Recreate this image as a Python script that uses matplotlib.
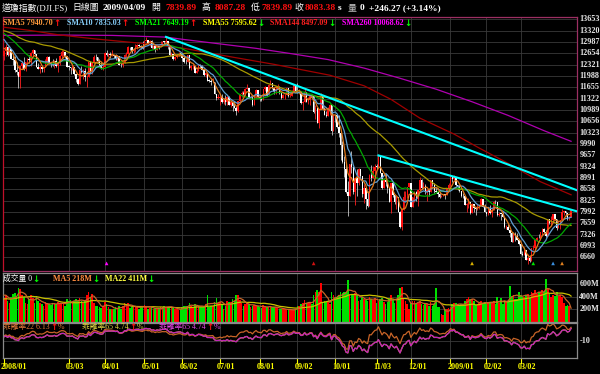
"""DJI daily chart (2008/01 - 2009/04/09) with SMAs, volume and bias panels -> out.png"""
import numpy as np
import pandas as pd
import matplotlib
matplotlib.use("Agg")
import matplotlib.pyplot as plt
from matplotlib.transforms import blended_transform_factory as blend

W, H = 600, 374
FONT = ["Liberation Serif", "Noto Sans CJK TC", "DejaVu Sans"]

# closes before the first drawn bar (2007/10/05 - 2008/01/08), only feed the averages
WARMUP_CLOSE = [
    14066, 14043, 14165, 14079, 14015, 14093, 13985, 13913, 13893, 13889, 13522, 13567, 13676,
    13675, 13671, 13807, 13870, 13792, 13930,
    13567, 13595, 13543, 13661, 13300, 13266, 13043, 12988, 13307, 13231, 13111, 13177, 12959,
    13011, 12800, 12981, 12744, 12959, 13289, 13312, 13372,
    13315, 13249, 13445, 13620, 13626, 13727, 13433, 13474, 13518, 13340, 13168, 13233, 13207,
    13246, 13451, 13550, 13551, 13359, 13366, 13265,
    13044, 13057, 12800, 12828, 12589,
]
WARMUP_VOL = [340, 360, 380, 350, 330, 360, 380, 350, 360, 380, 340, 300, 260, 330, 320, 350,
              400, 420, 440, 420, 460]

# daily bars 2008/01/09 - 2009/04/09
OPEN = [
    12589, 12735, 12853, 12606, 12778, 12501, 12466, 12159, 12099, 11971, 12270, 12379, 12207, 12384, 12480, 12443,
    12650, 12743, 12635, 12265, 12200, 12247, 12182, 12240, 12373, 12552, 12377, 12348, 12337, 12427, 12284, 12381, 12570, 12685, 12694, 12582,
    12266, 12259, 12214, 12255, 12040, 11894, 11740, 12157, 12110, 12146, 11951, 11972, 12393, 12100, 12361, 12549, 12533, 12423, 12302, 12216,
    12263, 12654, 12609, 12626, 12609, 12612, 12576, 12527, 12582, 12325, 12302, 12362, 12619, 12620, 12849, 12825, 12720, 12763, 12849, 12892, 12872, 12831,
    12820, 13010, 13058, 12970, 13021, 12814, 12867, 12746, 12876, 12832, 12898, 12993, 12987, 13028, 12829, 12601, 12626, 12480, 12548, 12591, 12646,
    12638, 12504, 12403, 12390, 12604, 12210, 12280, 12290, 12084, 12142, 12307, 12269, 12160, 12029, 12063, 11843, 11842, 11807, 11812, 11453, 11347,
    11350, 11382, 11216, 11289, 11232, 11384, 11147, 11229, 11101, 11055, 10963, 11239, 11447, 11497, 11467, 11603, 11632, 11349, 11371, 11131, 11398, 11584,
    11378, 11326, 11284, 11616, 11656, 11431, 11734, 11782, 11642, 11533, 11616, 11660, 11479, 11349, 11417, 11430, 11628, 11386, 11413, 11503, 11715,
    11544, 11517, 11533, 11188, 11221, 11511, 11231, 11269, 11434, 11422, 10918, 11059, 10610, 11020, 11388, 11016, 10854, 10825, 11022, 11143, 10365,
    10851, 10831, 10483, 10325, 9956, 9447, 9258, 8579, 8451, 9388, 9311, 8578, 8979, 8852, 9265, 9034, 8519, 8691, 8379, 8176, 9065, 8991, 9181,
    9325, 9320, 9625, 9139, 8696, 8944, 8871, 8694, 8283, 8835, 8497, 8274, 8425, 7997, 7552, 8046, 8443, 8479, 8727,
    8829, 8149, 8419, 8592, 8376, 8635, 8934, 8691, 8761, 8565, 8630, 8565, 8924, 8824, 8605, 8579, 8520, 8419, 8468, 8516, 8484, 8668,
    8776, 9035, 8953, 9015, 8770, 8742, 8599, 8474, 8449, 8200, 8212, 8281, 7949, 8228, 8123, 8078, 8116, 8175, 8375, 8149,
    8001, 7937, 8078, 7957, 8063, 8281, 8271, 7889, 7940, 7933, 7850, 7553, 7556, 7466, 7366, 7115, 7351, 7271, 7182,
    7063, 6763, 6726, 6876, 6594, 6627, 6547, 6926, 6930, 7170, 7224, 7217, 7396, 7487, 7401, 7278, 7776, 7660, 7750, 7925, 7776, 7522,
    7609, 7762, 7978, 8018, 7976, 7790, 7840,
]
HIGH = [
    12760, 12918, 12860, 12844, 12778, 12598, 12561, 12403, 12099, 12292, 12437, 12552, 12402, 12514, 12616, 12700,
    12767, 12743, 12635, 12369, 12299, 12247, 12258, 12493, 12571, 12589, 12388, 12494, 12462, 12526, 12401, 12597, 12740, 12763, 12694, 12582,
    12306, 12259, 12348, 12255, 12040, 11937, 12162, 12285, 12207, 12223, 12023, 12393, 12420, 12371, 12608, 12620, 12533, 12485, 12385, 12319,
    12684, 12741, 12676, 12688, 12739, 12612, 12625, 12618, 12582, 12362, 12397, 12641, 12682, 12869, 12849, 12825, 12794, 12921, 12920, 12935, 12889, 13010,
    13018, 13136, 13058, 13042, 13051, 12903, 12867, 12889, 12897, 13007, 13006, 13022, 13136, 13028, 12865, 12686, 12626, 12571, 12637, 12700, 12671,
    12638, 12575, 12476, 12615, 12604, 12322, 12340, 12290, 12245, 12318, 12338, 12319, 12160, 12109, 12063, 11903, 11893, 11941, 11812, 11461, 11450,
    11403, 11466, 11345, 11431, 11405, 11400, 11291, 11229, 11266, 11118, 11252, 11469, 11532, 11561, 11625, 11752, 11632, 11440, 11371, 11410, 11610, 11584,
    11407, 11359, 11616, 11702, 11656, 11760, 11867, 11782, 11642, 11687, 11746, 11690, 11479, 11460, 11453, 11646, 11628, 11467, 11565, 11733, 11715,
    11790, 11594, 11533, 11252, 11625, 11511, 11361, 11443, 11464, 11422, 11127, 11059, 11032, 11485, 11388, 11089, 10955, 11082, 11159, 11143, 10875,
    10851, 10831, 10844, 10323, 10082, 9628, 9403, 8901, 9388, 9794, 9311, 8994, 9265, 9275, 9265, 9034, 8809, 8691, 8605, 9099, 9385, 9352, 9406,
    9399, 9653, 9625, 9139, 8990, 9129, 8871, 8694, 8854, 8835, 8497, 8443, 8425, 8009, 8090, 8598, 8604, 8735, 8831,
    8829, 8420, 8607, 8601, 8638, 9026, 8968, 8879, 8800, 8661, 8647, 8939, 8924, 8850, 8713, 8590, 8573, 8482, 8531, 8516, 8670, 8831,
    9065, 9035, 9088, 9015, 8770, 8770, 8599, 8553, 8449, 8262, 8399, 8281, 8241, 8228, 8150, 8234, 8225, 8395, 8375, 8215,
    8001, 8104, 8193, 8096, 8315, 8339, 8271, 7991, 7940, 7983, 7850, 7620, 7625, 7466, 7409, 7366, 7401, 7384, 7182,
    7063, 6854, 6969, 6876, 6757, 6707, 6926, 7016, 7181, 7245, 7357, 7403, 7522, 7531, 7451, 7776, 7776, 7860, 7931, 7925, 7776, 7739,
    7764, 8075, 8018, 8018, 7976, 7887, 8087,
]
LOW = [
    12472, 12572, 12563, 12606, 12477, 12321, 12119, 12030, 11634, 11642, 12184, 12157, 12142, 12360, 12381, 12273,
    12571, 12613, 12248, 12187, 12070, 12117, 12111, 12240, 12373, 12349, 12259, 12275, 12228, 12251, 12106, 12325, 12524, 12571, 12513, 12246,
    12162, 12033, 12162, 12022, 11803, 11731, 11740, 12084, 11890, 11842, 11650, 11972, 12087, 12060, 12361, 12452, 12369, 12283, 12193, 12167,
    12263, 12580, 12537, 12527, 12580, 12523, 12466, 12467, 12297, 12249, 12256, 12362, 12560, 12620, 12760, 12674, 12676, 12703, 12774, 12850, 12782, 12791,
    12820, 13010, 12944, 12876, 12799, 12793, 12697, 12741, 12782, 12832, 12863, 12940, 12959, 12782, 12582, 12589, 12455, 12460, 12508, 12576, 12601,
    12431, 12366, 12329, 12390, 12204, 12175, 12185, 12063, 12083, 12142, 12212, 12154, 11997, 11946, 11826, 11808, 11731, 11800, 11445, 11288, 11314,
    11147, 11202, 11176, 11148, 11124, 11140, 11089, 10963, 11045, 10827, 10920, 11239, 11374, 11428, 11385, 11597, 11337, 11327, 11118, 11131, 11398, 11361,
    11242, 11239, 11284, 11536, 11402, 11431, 11734, 11616, 11467, 11451, 11616, 11446, 11323, 11327, 11302, 11430, 11372, 11358, 11400, 11503, 11526,
    11487, 11451, 11168, 11000, 11221, 11214, 11155, 11134, 11328, 10903, 10721, 10596, 10459, 11020, 11004, 10836, 10789, 10825, 10828, 10266, 10365,
    10634, 10453, 10205, 9525, 9438, 9019, 8539, 7882, 8451, 9128, 8530, 8197, 8450, 8780, 8966, 8423, 8268, 8076, 8152, 8176, 8898, 8991, 8993,
    9250, 9320, 9136, 8670, 8696, 8744, 8552, 8271, 7965, 8443, 8216, 8086, 7990, 7508, 7449, 8046, 8325, 8395, 8717,
    8141, 8149, 8295, 8300, 8171, 8635, 8671, 8691, 8530, 8328, 8464, 8565, 8752, 8559, 8553, 8426, 8405, 8419, 8459, 8382, 8484, 8668,
    8760, 8880, 8941, 8751, 8651, 8572, 8425, 8390, 8185, 7996, 8105, 7930, 7949, 8000, 7909, 8050, 8091, 8175, 8137, 7983,
    7869, 7902, 7943, 7846, 8063, 8220, 7867, 7867, 7748, 7846, 7534, 7486, 7448, 7250, 7106, 7115, 7146, 7170, 7027,
    6755, 6701, 6726, 6582, 6470, 6517, 6547, 6875, 6880, 7130, 7213, 7173, 7281, 7359, 7250, 7278, 7634, 7610, 7750, 7744, 7469, 7522,
    7483, 7762, 7890, 7876, 7764, 7741, 7840,
]
CLOSE = [
    12735, 12853, 12606, 12778, 12501, 12466, 12159, 12099, 11971, 12270, 12379, 12207, 12384, 12480, 12443, 12650,
    12743, 12635, 12265, 12200, 12247, 12182, 12240, 12373, 12552, 12377, 12348, 12337, 12427, 12284, 12381, 12570, 12685, 12694, 12582, 12266,
    12259, 12214, 12255, 12040, 11894, 11740, 12157, 12110, 12146, 11951, 11972, 12393, 12100, 12361, 12549, 12533, 12423, 12302, 12216, 12263,
    12654, 12609, 12626, 12609, 12612, 12576, 12527, 12582, 12325, 12302, 12362, 12619, 12620, 12849, 12825, 12720, 12763, 12849, 12892, 12872, 12831, 12820,
    13010, 13058, 12970, 13021, 12814, 12867, 12746, 12876, 12832, 12898, 12993, 12987, 13028, 12829, 12601, 12626, 12480, 12548, 12591, 12646, 12638,
    12504, 12403, 12390, 12604, 12210, 12280, 12290, 12084, 12142, 12307, 12269, 12160, 12029, 12063, 11843, 11842, 11807, 11812, 11453, 11347, 11350,
    11382, 11216, 11289, 11232, 11384, 11147, 11229, 11101, 11055, 10963, 11239, 11447, 11497, 11467, 11603, 11632, 11349, 11371, 11131, 11398, 11584, 11378,
    11326, 11284, 11616, 11656, 11431, 11734, 11782, 11642, 11533, 11616, 11660, 11479, 11349, 11417, 11430, 11628, 11386, 11413, 11503, 11715, 11544,
    11517, 11533, 11188, 11221, 11511, 11231, 11269, 11434, 11422, 10918, 11059, 10610, 11020, 11388, 11016, 10854, 10825, 11022, 11143, 10365, 10851,
    10831, 10483, 10325, 9956, 9447, 9258, 8579, 8451, 9388, 9311, 8578, 8979, 8852, 9265, 9034, 8519, 8691, 8379, 8176, 9065, 8991, 9181, 9325,
    9320, 9625, 9139, 8696, 8944, 8871, 8694, 8283, 8835, 8497, 8274, 8425, 7997, 7552, 8046, 8443, 8479, 8727, 8829,
    8149, 8419, 8592, 8376, 8635, 8934, 8691, 8761, 8565, 8630, 8565, 8924, 8824, 8605, 8579, 8520, 8419, 8468, 8516, 8484, 8668, 8776,
    9035, 8953, 9015, 8770, 8742, 8599, 8474, 8449, 8200, 8212, 8281, 7949, 8228, 8123, 8078, 8116, 8175, 8375, 8149, 8001,
    7937, 8078, 7957, 8063, 8281, 8271, 7889, 7940, 7933, 7850, 7553, 7556, 7466, 7366, 7115, 7351, 7271, 7182, 7063,
    6763, 6726, 6876, 6594, 6627, 6547, 6926, 6930, 7170, 7224, 7217, 7396, 7487, 7401, 7278, 7776, 7660, 7750, 7925, 7776, 7522, 7609,
    7762, 7978, 8018, 7976, 7790, 7837, 8083,
]
VOLUME = [  # millions
    380, 420, 330, 300, 400, 440, 460, 400, 540, 520, 430, 400, 300, 290, 360, 420,
    380, 300, 410, 330, 300, 280, 250, 320, 300, 280, 270, 290, 300, 280, 320, 280, 300, 290, 260, 360,
    330, 350, 300, 330, 360, 340, 380, 330, 300, 330, 420, 480, 400, 440, 300, 250, 260, 240, 220, 260,
    320, 280, 230, 200, 210, 210, 230, 220, 260, 210, 250, 300, 280, 300, 220, 230, 240, 250, 240, 210, 230, 260,
    270, 250, 200, 220, 240, 210, 200, 200, 210, 230, 230, 260, 230, 240, 240, 230, 220, 200, 200, 190, 200,
    230, 260, 260, 260, 300, 250, 240, 280, 250, 260, 230, 240, 260, 280, 430, 230, 260, 260, 320, 380, 300,
    320, 280, 200, 260, 340, 310, 320, 360, 330, 420, 420, 350, 300, 250, 280, 300, 290, 240, 250, 270, 250, 260,
    230, 220, 270, 240, 230, 240, 240, 230, 240, 230, 220, 200, 210, 210, 200, 190, 190, 200, 190, 190, 210,
    260, 250, 280, 300, 350, 300, 300, 300, 280, 420, 480, 510, 480, 620, 300, 330, 310, 330, 280, 470, 420,
    390, 400, 420, 470, 460, 480, 470, 660, 450, 430, 420, 460, 440, 340, 350, 390, 360, 350, 340, 390, 370, 350, 380,
    300, 340, 360, 380, 320, 290, 320, 360, 430, 350, 300, 370, 420, 540, 560, 370, 330, 280, 200,
    300, 330, 330, 290, 300, 330, 280, 270, 280, 290, 250, 320, 260, 290, 540, 240, 230, 120, 110, 200, 200, 220,
    230, 280, 300, 300, 280, 260, 280, 280, 330, 370, 390, 360, 360, 330, 270, 280, 300, 330, 300, 310,
    290, 300, 320, 310, 330, 280, 390, 300, 380, 280, 330, 340, 330, 570, 410, 420, 360, 370, 480,
    430, 400, 400, 420, 450, 380, 480, 460, 500, 450, 470, 480, 500, 470, 680, 520, 450, 400, 420, 410, 480, 410,
    420, 400, 300, 260, 270, 260, 0,
]

# long averages (bar index, value)
SMA144_AT = [0, 14, 30, 50, 76, 100, 125, 150, 181, 200, 215, 231, 250, 264, 280, 298, 315]
SMA144_VAL = [13420, 13330, 13200, 13080, 12950, 12800, 12560, 12330, 12010, 11700, 11300,
              10750, 10280, 9870, 9420, 8880, 8497]
SMA260_AT = [0, 30, 60, 90, 100, 120, 140, 160, 180, 200, 220, 240, 260, 280, 300, 315]
SMA260_VAL = [13180, 13190, 13180, 13130, 13060, 12930, 12800, 12640, 12470, 12220, 11920,
              11600, 11230, 10830, 10380, 10068]

# hand-drawn resistance lines (bar, price) -> (bar, price)
TREND_FROM = [(90, 13136), (208, 9653)]
TREND_TO = [(318.3, 8630), (318.3, 8010)]

SIGNAL_AT = [57, 172, 260, 294, 305, 310]
SIGNAL_COLORS = ["#ff00ff", "#d01010", "#d8b000", "#00e000", "#3a90e0", "#e08020"]

PRICE_TICKS = [13653, 13320, 12987, 12654, 12321, 11988, 11655, 11322, 10989, 10656, 10323,
               9990, 9657, 9324, 8991, 8658, 8325, 7992, 7659, 7326, 6993, 6660]
VOL_TICKS = [200, 400, 600]
MONTH_AT = [0, 36, 56, 78, 99, 120, 142, 163, 184, 207, 226, 248, 268, 287]
MONTH_LABELS = ["2008/01", "03/03", "04/01", "05/01", "06/02", "07/01", "08/01", "09/02",
                "10/01", "11/03", "12/01", "2009/01", "02/02", "03/02"]

n = min(len(OPEN), len(HIGH), len(LOW), len(CLOSE), len(VOLUME))
o = np.array(OPEN[:n], float)
h = np.array(HIGH[:n], float)
l = np.array(LOW[:n], float)
c = np.array(CLOSE[:n], float)
v = np.array(VOLUME[:n], float)
x = np.arange(n)

closes = pd.Series(WARMUP_CLOSE + list(c))
vols = pd.Series(WARMUP_VOL + list(v))
k0, v0 = len(WARMUP_CLOSE), len(WARMUP_VOL)
sma = {p: closes.rolling(p).mean().to_numpy()[k0:] for p in (5, 10, 21, 22, 55, 65)}
bias22 = (c - sma[22]) / sma[22] * 100
bias65 = (c - sma[65]) / sma[65] * 100
vma5 = vols.rolling(5).mean().to_numpy()[v0:]
vma22 = vols.rolling(22).mean().to_numpy()[v0:]

fig = plt.figure(figsize=(W / 100, H / 100), dpi=100, facecolor="black")
renderer = fig.canvas.get_renderer()
XL = (-0.55, 318.3)
GRID = "#3a3a3a"


def panel(top, bottom, edge):
    a = fig.add_axes([3 / W, 1 - bottom / H, 574 / W, (bottom - top) / H])
    a.set_facecolor("black")
    a.set_xticks([])
    a.set_yticks([])
    a.set_xlim(*XL)
    for s in a.spines.values():
        s.set_color(edge)
        s.set_linewidth(0.9)
    for m in MONTH_AT[1:]:
        a.axvline(m, color=GRID, lw=0.6, zorder=0)
    return a


def ftext(px, py, s, color, size=5.8, weight="bold", family=FONT):
    """Text at pixel (px, py) from top-left; returns its right edge in pixels."""
    t = fig.text(px / W, 1 - py / H, s, color=color, fontsize=size, fontweight=weight,
                 family=family, ha="left", va="center")
    return t.get_window_extent(renderer).x1


def arrow(px, py, up_):
    return ftext(px, py, "↑" if up_ else "↓", "#ff1010" if up_ else "#00ff00", 6.2, "bold",
                 ["DejaVu Sans"])


# ---- price panel
ax = panel(17, 271, "#9c2f62")
ax.spines["left"].set_color("#c0102a")
ax.set_ylim(6257, 13721)
for t in PRICE_TICKS:
    ax.axhline(t, color=GRID, lw=0.6, zorder=0)
    ax.text(1.004, t, str(t), transform=blend(ax.transAxes, ax.transData), color="#e8e8e8",
            fontsize=5.9, fontweight="bold", family=FONT, ha="left", va="center")

up = c >= o
ccol = np.where(up, "#ff1010", "#ffffff")
ax.vlines(x, l, h, colors=np.where(up, "#ff2020", "#c8c8c8"), lw=0.6, zorder=2)
ax.bar(x, np.maximum(np.abs(c - o), 15), bottom=np.minimum(o, c), width=0.8, color=ccol,
       linewidth=0, zorder=3)

ax.plot(SMA260_AT, SMA260_VAL, color="#b000b0", lw=0.9, zorder=4)
ax.plot(SMA144_AT, SMA144_VAL, color="#a00000", lw=0.9, zorder=4)
ax.plot(x, sma[55], color="#a89a00", lw=0.9, zorder=4)
ax.plot(x, sma[21], color="#00a800", lw=0.9, zorder=4)
ax.plot(x, sma[10], color="#5f9fd0", lw=0.9, zorder=4)
ax.plot(x, sma[5], color="#e07818", lw=0.9, zorder=4)
for (x0, y0), (x1, y1) in zip(TREND_FROM, TREND_TO):
    ax.plot([x0, x1], [y0, y1], color="#00ffff", lw=1.5, zorder=5)
ax.scatter(SIGNAL_AT, [0.03] * len(SIGNAL_AT), c=SIGNAL_COLORS, marker="^", s=7, linewidths=0,
           transform=blend(ax.transData, ax.transAxes), zorder=6)

# ---- volume panel
axv = panel(273, 322, "#8a8a8a")
axv.set_ylim(0, 775)
for t in VOL_TICKS:
    axv.axhline(t, color=GRID, lw=0.6, zorder=0)
    axv.text(1.004, t, f"{t}M", transform=blend(axv.transAxes, axv.transData), color="#e8e8e8",
             fontsize=5.9, fontweight="bold", family=FONT, ha="left", va="center")
axv.bar(x, v, width=0.95, color=np.where(up, "#ff0000", "#00e000"), linewidth=0, zorder=2)
axv.plot(x, vma22, color="#c8c000", lw=0.9, zorder=3)
axv.plot(x, vma5, color="#c86428", lw=0.9, zorder=3)

# ---- bias panel
axb = panel(323, 358, "#8a8a8a")
axb.set_ylim(-30, 11.2)
axb.axhline(-10, color=GRID, lw=0.6, zorder=0)
axb.text(1.004, -10, "-10", transform=blend(axb.transAxes, axb.transData), color="#e8e8e8",
         fontsize=5.9, fontweight="bold", family=FONT, ha="left", va="center")
axb.plot(x, bias65, color="#c8c000", lw=0.9)
axb.plot(x, bias22, color="#c86428", lw=0.9)
axb.plot(x, bias65, color="#c020c0", lw=0.9)

# ---- date axis
tb = blend(axb.transData, axb.transAxes)
for m, lab in zip(MONTH_AT, MONTH_LABELS):
    axb.plot([m, m], [-0.02, -0.13], color="#ffff00", lw=0.8, transform=tb, clip_on=False)
    axb.text(m - 1.6, -0.27, lab, transform=tb, color="#ffff00", fontsize=5.9,
             fontweight="bold", family=FONT, ha="left", va="center")

# ---- header and legends
RED, WHITE = "#ff1010", "#ffffff"
right = 0
for px, s, col in [(2, "道瓊指數(DJI.FS)", WHITE), (72, "日線圖", WHITE), (103, "2009/04/09", WHITE),
                   (151, "開", WHITE), (166, "7839.89", RED), (201, "高", WHITE),
                   (215, "8087.28", RED), (251, "低", WHITE), (261, "7839.89", RED),
                   (294, "收", WHITE), (302, "8083.38", RED), (338, "s", WHITE),
                   (348, "量", "#c0c0c0"), (360, "0", WHITE), (369, "+246.27 (+3.14%)", WHITE)]:
    cjk = any(ord(ch) > 0x2000 for ch in s)
    right = ftext(max(px, right + 1.5), 8, s, col, 6.4 if cjk else 6.8,
                  "normal" if cjk else "bold")

for px, s, col, rising in [
        (3, "SMA5 7940.70", "#ff9a3c", True), (67, "SMA10 7835.03", "#87cefa", True),
        (135, "SMA21 7649.19", "#00ff00", True), (203, "SMA55 7595.62", "#ffff00", False),
        (270, "SMA144 8497.09", "#ff2020", False), (342, "SMA260 10068.62", "#ff00ff", False)]:
    r = ftext(px, 23, s, col)
    arrow(r + 0.5, 23, rising)

for px, s, col, size, wt in [(3, "成交量 0", WHITE, 5.6, "normal"),
                             (53, "MA5 218M", "#ff8c40", 5.8, "bold"),
                             (105, "MA22 411M", "#ffff40", 5.8, "bold")]:
    r = ftext(px, 279, s, col, size, wt)
    arrow(r + 0.5, 279, False)

for px, s, col in [(3, "乖離率22 6.13", "#e07838"), (82, "乖離率65 4.74", "#d8d040"),
                   (159, "乖離率65 4.74", "#e040e0")]:
    r = ftext(px, 327, s, col, 5.6, "normal")
    r = arrow(r + 0.5, 327, True)
    ftext(r, 327, "%", col, 5.6, "normal")

fig.savefig("out.png", dpi=100, facecolor="black")
print("wrote out.png")
